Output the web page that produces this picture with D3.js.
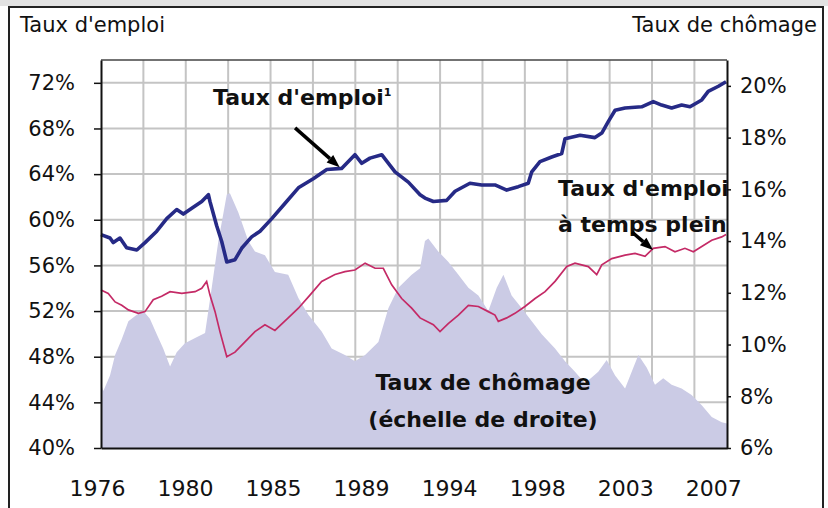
<!DOCTYPE html>
<html>
<head>
<meta charset="utf-8">
<title>Taux d'emploi et taux de chômage</title>
<script src="https://d3js.org/d3.v7.min.js"></script>
<style>
  body {margin: 0; background: #fff;}
  svg text {font-family: "DejaVu Sans", sans-serif; fill: #111;}
  .titre {font-size: 21px;}
  .annot {font-size: 22px; font-weight: bold;}
  .axe text {font-size: 21px;}
  .axe-x text {font-size: 22px;}
  .axe path {stroke: #111; stroke-width: 2px;}
  .axe line {stroke: #111; stroke-width: 1.5px;}
  .grille line {stroke: #c4c4c4; stroke-width: 2px;}
</style>
</head>
<body>
<div id="chart"></div>
<script>
// Taux d'emploi (échelle de gauche, %)
var empYears = [1976.0,1976.46,1976.63,1976.97,1977.31,1977.83,1978.25,1978.85,1979.36,1979.87,1980.21,1980.64,1981.15,1981.49,1981.57,1981.91,1982.17,1982.43,1982.85,1983.19,1983.70,1984.13,1984.73,1985.41,1986.09,1986.85,1987.54,1988.30,1988.98,1989.33,1989.75,1990.35,1991.03,1991.71,1992.31,1992.56,1992.99,1993.67,1994.10,1994.86,1995.46,1996.14,1996.74,1997.33,1997.84,1998.02,1998.44,1999.04,1999.55,1999.72,2000.49,2001.25,2001.60,2001.93,2002.28,2002.79,2003.64,2004.23,2004.66,2005.17,2005.68,2006.11,2006.71,2007.04,2007.56,2007.95];
var empRate = [58.7,58.4,58.0,58.4,57.55,57.35,58.0,59.0,60.1,60.9,60.5,61.0,61.6,62.2,61.6,59.5,58.1,56.3,56.5,57.5,58.5,59.0,60.1,61.45,62.8,63.6,64.4,64.5,65.7,64.95,65.4,65.7,64.2,63.3,62.2,61.9,61.6,61.7,62.5,63.2,63.05,63.05,62.6,62.9,63.2,64.2,65.1,65.5,65.8,67.1,67.4,67.2,67.6,68.6,69.6,69.8,69.9,70.35,70.05,69.8,70.05,69.9,70.5,71.25,71.7,72.1];

// Taux d'emploi à temps plein (échelle de gauche, %)
var ftYears = [1976.0,1976.37,1976.72,1977.06,1977.40,1977.91,1978.25,1978.67,1979.10,1979.53,1980.13,1980.81,1981.15,1981.40,1981.57,1981.83,1982.08,1982.43,1982.85,1983.36,1983.87,1984.38,1984.89,1985.57,1986.09,1986.68,1987.28,1987.96,1988.47,1988.98,1989.50,1990.01,1990.43,1990.86,1991.37,1991.88,1992.31,1992.99,1993.33,1993.75,1994.27,1994.78,1995.29,1995.80,1996.14,1996.31,1996.74,1997.16,1997.67,1998.19,1998.70,1999.21,1999.81,2000.23,2000.91,2001.34,2001.60,2002.11,2002.79,2003.30,2003.81,2004.23,2004.83,2005.34,2005.85,2006.28,2006.71,2007.22,2007.73,2007.95];
var ftRate = [53.85,53.55,52.8,52.5,52.1,51.8,51.95,53.0,53.3,53.7,53.55,53.7,54.0,54.6,53.4,51.95,50.2,48.0,48.4,49.3,50.2,50.8,50.3,51.4,52.25,53.4,54.6,55.2,55.45,55.6,56.2,55.75,55.75,54.3,53.1,52.25,51.4,50.8,50.2,50.9,51.65,52.5,52.4,51.95,51.65,51.1,51.4,51.8,52.4,53.1,53.7,54.6,55.9,56.2,55.9,55.2,56.05,56.6,56.9,57.05,56.8,57.5,57.65,57.2,57.5,57.2,57.65,58.2,58.5,58.7];

// Taux de chômage (échelle de droite, %)
var unYears = [1976.0,1976.12,1976.46,1976.72,1977.06,1977.40,1977.83,1978.16,1978.50,1978.85,1979.18,1979.53,1979.87,1980.29,1980.81,1981.32,1981.66,1982.0,1982.43,1982.59,1983.02,1983.53,1983.87,1984.38,1984.89,1985.57,1986.09,1986.60,1987.28,1987.79,1988.47,1988.98,1989.50,1990.18,1990.69,1991.20,1991.88,1992.31,1992.56,1992.73,1993.24,1993.75,1994.27,1994.78,1995.29,1995.80,1996.23,1996.57,1996.99,1997.51,1998.02,1998.53,1999.21,1999.72,2000.23,2000.74,2001.42,2001.85,2002.28,2002.79,2003.21,2003.47,2003.90,2004.32,2004.74,2005.17,2005.68,2006.19,2006.71,2007.22,2007.73,2008.0];
var unRate = [8.5,8.2,8.8,9.6,10.2,10.9,11.15,11.3,11.0,10.4,9.85,9.15,9.7,10.05,10.25,10.45,12.2,14.0,15.8,15.85,15.1,14.0,13.6,13.45,12.8,12.7,11.8,11.15,10.5,9.85,9.6,9.35,9.6,10.1,11.4,12.2,12.7,12.95,14.0,14.1,13.6,13.2,12.7,12.2,11.9,11.3,12.2,12.7,11.9,11.4,10.9,10.4,9.85,9.35,8.95,8.5,8.95,9.4,8.8,8.3,9.1,9.6,9.1,8.45,8.7,8.45,8.3,8.05,7.65,7.2,7.0,6.95];

var leftTicks = [40,44,48,52,56,60,64,68,72];
var rightTicks = [6,8,10,12,14,16,18,20];
var yearLabels = [1976,1980,1985,1989,1994,1998,2003,2007];

var W = 828, H = 508;
var plot = {left: 101, right: 727, top: 60, bottom: 448};

var svg = d3.select("#chart").append("svg")
    .attr("width", W).attr("height", H);

// cadre extérieur
svg.append("rect").attr("x", 0).attr("y", 0).attr("width", W).attr("height", 6).attr("fill", "#e2e2e2");
svg.append("rect").attr("x", 9).attr("y", 7).attr("width", 814).attr("height", 520)
    .attr("fill", "#fff").attr("stroke", "#222").attr("stroke-width", 2);

var x = d3.scaleLinear().domain([1976, 2008]).range([plot.left, plot.right]);
var yL = d3.scaleLinear().domain([40, 74]).range([plot.bottom, plot.top]);
var yR = d3.scaleLinear().domain([6, 21]).range([plot.bottom, plot.top]);

// quadrillage
var grid = svg.append("g").attr("class", "grille");
grid.selectAll(".h").data(leftTicks.slice(1)).join("line")
    .attr("x1", plot.left).attr("x2", plot.right)
    .attr("y1", d => yL(d)).attr("y2", d => yL(d));
grid.selectAll(".v").data(d3.range(1976 + 26/12, 2008, 26/12)).join("line")
    .attr("x1", d => x(d)).attr("x2", d => x(d))
    .attr("y1", plot.top).attr("y2", plot.bottom);

// aire du chômage
var area = d3.area()
    .x((d, i) => x(unYears[i]))
    .y0(yR(6))
    .y1(d => yR(d));
svg.append("path").datum(unRate)
    .attr("d", area)
    .attr("fill", "#cbcbe5");

// lignes
var lineEmp = d3.line().x((d, i) => x(empYears[i])).y(d => yL(d));
var lineFt = d3.line().x((d, i) => x(ftYears[i])).y(d => yL(d));

svg.append("path").datum(ftRate).attr("d", lineFt)
    .attr("fill", "none").attr("stroke", "#c42a66").attr("stroke-width", 1.7);
svg.append("path").datum(empRate).attr("d", lineEmp)
    .attr("fill", "none").attr("stroke", "#262a86").attr("stroke-width", 3.6)
    .attr("stroke-linejoin", "round");

// bord haut du graphique
svg.append("line").attr("x1", plot.left).attr("x2", plot.right)
    .attr("y1", plot.top).attr("y2", plot.top)
    .attr("stroke", "#444").attr("stroke-width", 1.5);

// axes
svg.append("g").attr("class", "axe")
    .attr("transform", "translate(" + plot.left + ",0)")
    .call(d3.axisLeft(yL).tickValues(leftTicks).tickSize(7).tickSizeOuter(0).tickPadding(19)
        .tickFormat(d => d + "%"));

svg.append("g").attr("class", "axe")
    .attr("transform", "translate(" + plot.right + ",0)")
    .call(d3.axisRight(yR).tickValues(rightTicks).tickSize(4).tickSizeOuter(0).tickPadding(9)
        .tickFormat(d => d + "%"));

var xAxis = svg.append("g").attr("class", "axe axe-x")
    .attr("transform", "translate(0," + plot.bottom + ")")
    .call(d3.axisBottom(x).tickValues(d3.range(1976, 2008, 4.5)).tickSize(0).tickSizeOuter(0).tickPadding(32)
        .tickFormat((d, i) => yearLabels[i]));
xAxis.selectAll("text").attr("dx", -4);

// titres des axes
svg.append("text").attr("class", "titre").attr("x", 20).attr("y", 32).text("Taux d'emploi");
svg.append("text").attr("class", "titre").attr("x", 817).attr("y", 32)
    .attr("text-anchor", "end").text("Taux de chômage");

// annotations
var t1 = svg.append("text").attr("class", "annot").attr("x", 213).attr("y", 105);
t1.append("tspan").text("Taux d'emploi");
t1.append("tspan").attr("font-size", 11).attr("dy", -9).text("1");

svg.append("text").attr("class", "annot").attr("x", 558).attr("y", 196).text("Taux d'emploi");
svg.append("text").attr("class", "annot").attr("x", 558).attr("y", 232).text("à temps plein");

svg.append("text").attr("class", "annot").attr("x", 483).attr("y", 390)
    .attr("text-anchor", "middle").text("Taux de chômage");
svg.append("text").attr("class", "annot").attr("x", 483).attr("y", 427)
    .attr("text-anchor", "middle").text("(échelle de droite)");

function arrow(x0, y0, x1, y1) {
    var a = Math.atan2(y1 - y0, x1 - x0), len = 13, wid = 5;
    var bx = x1 - len * Math.cos(a), by = y1 - len * Math.sin(a);
    svg.append("line").attr("x1", x0).attr("y1", y0).attr("x2", bx).attr("y2", by)
        .attr("stroke", "#000").attr("stroke-width", 3.5);
    svg.append("polygon")
        .attr("points", [[x1, y1],
            [bx + wid * Math.sin(a), by - wid * Math.cos(a)],
            [bx - wid * Math.sin(a), by + wid * Math.cos(a)]].map(p => p.join(",")).join(" "))
        .attr("fill", "#000");
}
arrow(x(1985.92), yL(68.05), x(1988.2), yL(64.6));
arrow(x(2003.14), yL(58.93), x(2004.22), yL(57.35));
</script>
</body>
</html>
